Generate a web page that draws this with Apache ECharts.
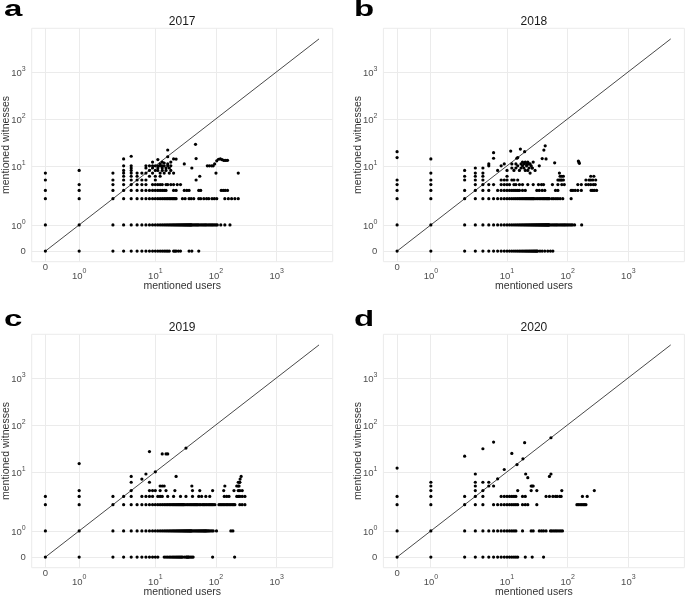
<!DOCTYPE html>
<html><head><meta charset="utf-8">
<script src="https://cdn.jsdelivr.net/npm/echarts@6/dist/echarts.min.js"></script>
<style>html,body{margin:0;padding:0;background:#fff}#c{width:685px;height:595px}</style>
</head><body><div id="c"></div>
<script>
// ---------------- data ----------------
const years = ['2017', '2018', '2019', '2020'];
const letters = ['a', 'b', 'c', 'd'];
const tickValues = [0, 1, 10, 100, 1000];
const tickLabels = ['0', '10^0', '10^1', '10^2', '10^3'];
const diagonalEnd = 5000;
const xName = 'mentioned users';
const yName = 'mentioned witnesses';

// rows: [witnesses, [users...]]
const rows2017 = [
  [0, [0,1,2,3,4,5,6,7,8,9,10,11,12,13,14,15,16,17,20,21,22,24,26,36,40,52]],
  [1, [0,1,2,3,4,5,6,7,8,9,10,11,12,13,14,15,16,17,18,19,20,21,22,23,24,25,26,27,28,29,30,31,32,33,34,35,36,37,38,39,40,42,44,46,48,50,52,55,58,61,64,67,70,74,78,82,86,90,95,100,105,120,140,170]],
  [2, [0,1,2,3,4,5,6,7,8,9,10,11,12,13,14,15,16,17,18,19,20,21,22,28,31,36,39,43,52,56,63,70,76,86,94,103,140,160,181,205,233]],
  [3, [0,1,2,3,4,5,6,7,8,9,10,11,12,13,14,15,20,22,30,33,36,52,56,122,132,142,155]],
  [4, [1,2,3,4,5,6,7,9,10,11,12,13,15,16,18,20,23,26]],
  [5, [0,2,3,4,5,6,7,10,47]],
  [6, [3,4,5,8,10,12,54]],
  [7, [0,2,3,4,5,6,7,9,12,14,17,20,100,233]],
  [8, [1,3,4,8,10,11,13,15,18]],
  [9, [4,7,9,11,13,15,17,40]],
  [10, [3,4,7,8,9,10,11,12,13,14,16,18,72,78,85,90]]
];
const extra2017 = [[3,14],[4,16],[11,13.6],[13,12],[16,21.7],[16,15.6],[22,13.9],[30,11],[46,28.7],[47,14.3],[95,11],[103,12.8],[110,13.8],[118,14],[126,13.5],[135,13],[145,13],[155,13.1],[12,11],[14,11.5],[16,11],[18,12],[9,12],[20,14]];

const rows2018 = [
  [0, [0,1,2,3,4,5,6,7,8,9,10,11,12,13,14,15,16,17,18,19,20,21,22,23,24,25,26,27,28,29,30,31,32,35,38,42,47,52,57]],
  [1, [0,1,2,3,4,5,6,7,8,9,10,11,12,13,14,15,16,17,18,19,20,21,22,23,24,25,26,27,28,29,30,31,32,33,34,35,36,37,38,39,40,41,42,43,44,45,46,47,48,49,50,53,56,59,62,65,68,72,76,80,84,88,92,97,102,108,114,120,130,170]],
  [2, [0,1,2,3,4,5,6,7,8,9,10,11,12,13,14,15,16,17,18,19,20,21,22,23,24,25,26,27,28,30,32,34,36,38,40,42,44,46,48,50,55,59,64,69,75,83,114]],
  [3, [0,1,2,3,4,5,7,8,9,10,11,12,13,14,15,16,18,20,31,34,38,42,63,69,114,122,133,147,168,243,259,276,300]],
  [4, [0,1,3,4,5,6,8,9,10,11,13,14,16,18,22,27,33,37,40,56,69,80,88,147,168,200,220,240,265,285]],
  [5, [0,1,2,3,4,8,9,10,12,13,15,69,73,77,80,85,200,225,240,260,290]],
  [6, [2,3,4,10,75,80,85,240,270]],
  [7, [1,3,4,73]],
  [8, [2,7,10,13,16,20,22]],
  [9, [3,4,12,14,19,23,26]],
  [10, [5,8,15,18,21,25,34]]
];
const extra2018 = [[0,15],[0,20],[1,14],[6,19],[6,14.5],[11.5,20.6],[16.6,22.7],[19.5,20],[15,15],[14.5,14.5],[42.6,26.7],[40.5,21.6],[38,14.3],[44,14],[150,12.6],[156,11.3],[153,12],[5,11],[61,11.6],[17,11],[18,12],[19,11],[20,12],[21,11],[22,11],[22,12],[23,11],[24,11],[24,7],[26,9],[17,9],[12,11],[14,11],[27,12],[29,8],[9,11]];

const rows2019 = [
  [0, [0,1,2,3,4,5,6,7,8,9,10,11,14,15,16,17,18,19,20,21,22,23,24,25,26,27,28,30,32,33,34,35,36,38,40,42,88,203]],
  [1, [0,1,2,3,4,5,6,7,8,9,10,11,12,13,14,15,16,17,18,19,20,21,22,23,24,25,26,27,28,29,30,31,32,33,34,35,36,37,38,39,40,42,44,46,48,50,52,54,56,58,60,62,64,66,68,70,73,76,80,85,90,102,176,190]],
  [2, [0,1,2,3,4,5,6,7,8,9,10,11,12,13,14,15,16,17,18,19,20,21,22,23,24,25,26,27,28,29,30,32,34,36,38,40,42,44,46,48,50,53,56,60,63,66,70,74,78,82,86,90,96,112,118,125,132,140,148,156,165,175,185,195,205,247,270,300]],
  [3, [0,1,2,3,4,6,7,8,9,11,12,13,16,20,26,32,41,52,58,68,79,137,150,164,220,233,247,271,300]],
  [4, [1,4,8,9,10,12,15,21,41,54,88,134,198,233,247,271]],
  [5, [12,13,14,40,140,220,233,240]],
  [6, [4,8,233,247]]
];
const extra2019 = [[4,8],[6,7],[7,9],[8,27],[10,10],[13,24],[15,24],[16,24],[22,8],[32,32],[250,7],[260,8],[245,6],[1,15]];

const rows2020 = [
  [0, [0,1,2,3,4,5,6,7,8,9,10,11,12,13,14,15,20,26,40]],
  [1, [0,1,2,3,4,5,6,7,8,9,10,11,12,13,14,18,25,27,34,37,40,44,52,55,59,63,67,72,77,82]],
  [2, [0,1,2,3,4,6,7,8,9,10,11,12,13,14,15,18,20,22,31,142,150,160,170,180,190,200]],
  [3, [0,1,2,3,4,8,9,10,11,12,13,14,18,20,44,50,57,63,67,74,78,175,210]],
  [4, [1,3,4,15,25,31,80,275]],
  [5, [1,3,5,6,25,26,27]],
  [6, [1,3,4,5]]
];
const extra2020 = [[0,12],[2,21.5],[3,9],[4,31],[6,43],[7,7.1],[9,11.2],[12,24.6],[14.6,14.3],[18.3,18.9],[19.5,41.6],[20.3,9],[22,7.5],[50,8],[53,9],[53,53]];

const panelRows = [rows2017, rows2018, rows2019, rows2020];
const panelExtras = [extra2017, extra2018, extra2019, extra2020];

// ---------------- scale (log10 above 2, evenly spaced 0,1,2) ----------------
const STEP = 0.557;
function tf(v) { return v >= 2 ? Math.log10(v) : Math.log10(2) - (2 - v) * STEP; }
const dataMin = tf(0), dataMax = tf(diagonalEnd);
const pad = (dataMax - dataMin) * 0.05;
const axMin = dataMin - pad, axMax = dataMax + pad;
const tickT = tickValues.map(tf);
function labelFor(v) {
  let best = 0;
  for (let i = 0; i < tickT.length; i++) if (Math.abs(tickT[i] - v) < Math.abs(tickT[best] - v)) best = i;
  return tickLabels[best];
}
function fmt(v) {
  const l = labelFor(v);
  if (l === '0') return '{z|0}';
  return '{b|10}{s|' + l.split('^')[1] + '}';
}

// ---------------- layout ----------------
const W = 301, H = 233.4;
const lefts = [31.7, 383.4, 31.7, 383.4];
const tops = [28.3, 28.3, 334.3, 334.3];
const FONT = 'Liberation Sans, Arial, Helvetica, sans-serif';
const tickColor = '#4d4d4d';
const gridColor = '#ebebeb';

const grids = [], xAxes = [], yAxes = [], series = [], graphics = [];
for (let i = 0; i < 4; i++) {
  grids.push({ left: lefts[i], top: tops[i], width: W, height: H, show: true,
    outerBoundsMode: 'none', containLabel: false,
    borderColor: gridColor, borderWidth: 1, backgroundColor: 'transparent' });
  xAxes.push({
    type: 'value', gridIndex: i, min: axMin, max: axMax,
    axisLine: { show: false }, axisTick: { show: false }, splitLine: { show: false },
    name: xName, nameLocation: 'middle', nameGap: 19, nameMoveOverlap: false,
    nameTextStyle: { fontFamily: FONT, fontSize: 10.5, color: '#333', verticalAlign: 'top' },
    axisLabel: {
      customValues: tickT, margin: 1, color: tickColor, fontFamily: FONT, formatter: fmt,
      rich: {
        z: { fontSize: 9.5, lineHeight: 9, color: tickColor, fontFamily: FONT },
        b: { fontSize: 9.5, lineHeight: 28, color: tickColor, fontFamily: FONT },
        s: { fontSize: 7, padding: [5, 0, 0, 0], verticalAlign: 'top', color: tickColor, fontFamily: FONT }
      }
    }
  });
  yAxes.push({
    type: 'value', gridIndex: i, min: axMin, max: axMax,
    axisLine: { show: false }, axisTick: { show: false }, splitLine: { show: false },
    name: yName, nameLocation: 'middle', nameGap: 20, nameMoveOverlap: false,
    nameTextStyle: { fontFamily: FONT, fontSize: 10.5, color: '#333' },
    axisLabel: {
      customValues: tickT, margin: 6, color: tickColor, fontFamily: FONT, formatter: fmt,
      rich: {
        z: { fontSize: 9.5, lineHeight: 10, color: tickColor, fontFamily: FONT },
        b: { fontSize: 9.5, lineHeight: 12.6, padding: [3.4, 0, 0, 0], color: tickColor, fontFamily: FONT },
        s: { fontSize: 7, padding: [0, 0, 0, 0], verticalAlign: 'top', color: tickColor, fontFamily: FONT }
      }
    }
  });

  const pts = [];
  panelRows[i].forEach(function (r) { r[1].forEach(function (x) { pts.push([tf(x), tf(r[0])]); }); });
  panelExtras[i].forEach(function (p) { pts.push([tf(p[0]), tf(p[1])]); });

  const ml = tickT.map(function (t) { return { xAxis: t }; }).concat(tickT.map(function (t) { return { yAxis: t }; }));
  series.push({
    type: 'line', xAxisIndex: i, yAxisIndex: i, z: 1, symbol: 'none', silent: true,
    data: [[tf(0), tf(0)], [tf(diagonalEnd), tf(diagonalEnd)]],
    lineStyle: { color: '#1a1a1a', width: 0.8 },
    markLine: { silent: true, symbol: 'none', z: 0, label: { show: false },
      lineStyle: { color: gridColor, width: 1, type: 'solid' }, emphasis: { disabled: true },
      data: ml }
  });
  series.push({
    type: 'scatter', xAxisIndex: i, yAxisIndex: i, z: 3, symbolSize: 3.2, silent: true,
    itemStyle: { color: '#000', opacity: 1 }, data: pts
  });

  graphics.push({ type: 'text', silent: true,
    style: { x: lefts[i] + W / 2, y: tops[i] - 6.6, text: years[i], align: 'center', verticalAlign: 'middle',
      fontFamily: FONT, fontSize: 12, fill: '#1a1a1a' } });
  const lx = i % 2 === 0 ? 4 : 354, ly = (i < 2 ? 16.7 : 326.5) - 6.5;
  graphics.push({ type: 'text', silent: true, x: lx, y: ly, scaleX: 1.5, scaleY: 1,
    style: { x: 0, y: 0, text: letters[i], align: 'left', verticalAlign: 'middle',
      fontFamily: FONT, fontSize: 22, fontWeight: 'bold', fill: '#000' } });
}

const chart = echarts.init(document.getElementById('c'), null, { renderer: 'canvas' });
chart.setOption({
  animation: false,
  backgroundColor: '#fff',
  grid: grids, xAxis: xAxes, yAxis: yAxes, series: series, graphic: graphics
});
</script></body></html>
